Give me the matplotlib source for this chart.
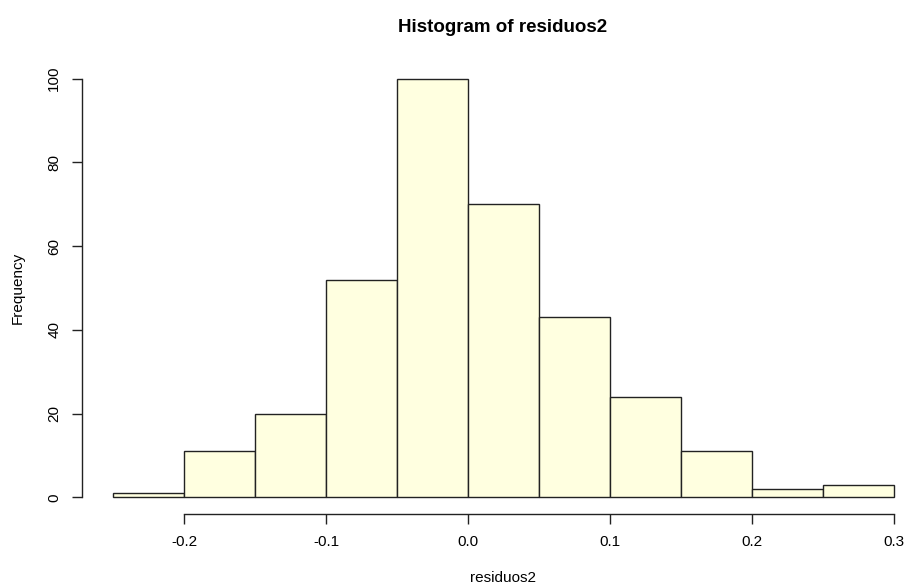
import numpy as np
import matplotlib
matplotlib.use('Agg')
import matplotlib.pyplot as plt

plt.rcParams['font.family'] = ['Liberation Sans', 'DejaVu Sans']

# histogram of residuals, breaks every 0.05
bin_edges = [-0.25, -0.2, -0.15, -0.1, -0.05, 0.0, 0.05, 0.1, 0.15, 0.2, 0.25, 0.3]
counts = [1, 11, 20, 52, 100, 70, 43, 24, 11, 2, 3]
x_ticks = [-0.2, -0.1, 0.0, 0.1, 0.2, 0.3]
x_tick_labels = ['-0.2', '-0.1', '0.0', '0.1', '0.2', '0.3']
y_ticks = [0, 20, 40, 60, 80, 100]

W, H = 906, 587
fig = plt.figure(figsize=(W / 100, H / 100), dpi=100)
# plot region in pixels: left 82, right 925.5, top 62, bottom 514
ax = fig.add_axes([82 / W, (H - 514) / H, 843.5 / W, 452 / H])

lefts = np.array(bin_edges[:-1])
widths = np.diff(bin_edges)
ax.bar(lefts, counts, width=widths, align='edge', color='#FFFFE0',
       edgecolor='#222222', linewidth=1.0)

ax.set_xlim(-0.272, 0.322)
ax.set_ylim(-4, 104)

for s in ['top', 'right']:
    ax.spines[s].set_visible(False)
ax.spines['left'].set_bounds(0, 100)
ax.spines['bottom'].set_bounds(-0.2, 0.3)
for s in ['left', 'bottom']:
    ax.spines[s].set_linewidth(1.0)
    ax.spines[s].set_color('#222222')

ax.set_xticks(x_ticks)
ax.set_xticklabels(x_tick_labels)
ax.set_yticks(y_ticks)
ax.set_yticklabels([str(v) for v in y_ticks], rotation=90, va='center')
ax.tick_params(axis='both', direction='out', length=7, width=1.0,
               color='#222222', labelsize=11, pad=8)

fig.text(503 / W, 1 - 27 / H, 'Histogram of residuos2', ha='center',
         va='center', fontsize=13.5, fontweight='bold')
fig.text(503 / W, 1 - 578 / H, 'residuos2', ha='center', va='center',
         fontsize=11)
fig.text(18 / W, 1 - 288 / H, 'Frequency', ha='center', va='center',
         fontsize=11, rotation=90)

fig.savefig('out.png', dpi=100)
